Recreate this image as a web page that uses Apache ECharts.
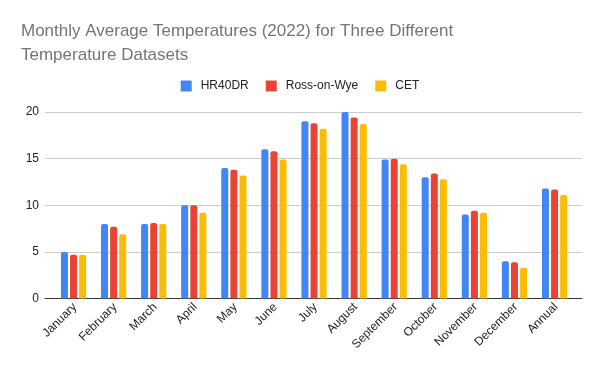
<!DOCTYPE html>
<html><head><meta charset="utf-8">
<script src="https://cdn.jsdelivr.net/npm/echarts@6/dist/echarts.min.js"></script>
<style>html,body{margin:0;padding:0;background:#fff}#c{width:600px;height:371px}</style>
</head><body><div id="c"></div>
<script>
const categories = ["January","February","March","April","May","June","July","August","September","October","November","December","Annual"];
const hr40dr = [5.0, 8.0, 8.0, 10.0, 14.0, 16.0, 19.0, 20.0, 14.9, 13.0, 9.0, 4.0, 11.8];
const rossOnWye = [4.7, 7.7, 8.1, 10.0, 13.8, 15.8, 18.8, 19.4, 15.0, 13.4, 9.4, 3.9, 11.7];
const cet = [4.7, 6.9, 8.0, 9.2, 13.2, 14.9, 18.2, 18.7, 14.4, 12.8, 9.2, 3.3, 11.1];
const seriesNames = ["HR40DR", "Ross-on-Wye", "CET"];
const colors = ["#4285F4", "#EA4335", "#FBBC04"];

const chart = echarts.init(document.getElementById('c'));
const font = 'Arial, "Liberation Sans", sans-serif';
const mk = (name, data, color) => ({
  name, type: 'bar', data, barWidth: 7, barGap: '30%',
  xAxisIndex: 1, yAxisIndex: 1,
  itemStyle: { color, borderRadius: [2, 2, 0, 0] }
});
chart.setOption({
  animation: false,
  color: colors,
  title: {
    text: 'Monthly Average Temperatures (2022) for Three Different\nTemperature Datasets',
    left: 21, top: 20, padding: 0,
    textStyle: { fontFamily: font, fontSize: 17, fontWeight: 'normal', color: '#757575', lineHeight: 23.4 }
  },
  legend: {
    top: 80, left: 'center', itemWidth: 11, itemHeight: 11, itemGap: 17, padding: 0,
    icon: 'rect',
    textStyle: { fontFamily: font, fontSize: 12, color: '#222', padding: [0, 0, 0, 4] },
    data: seriesNames
  },
  grid: [
    { left: 45, right: 18, top: 112, bottom: 72.5 },
    { left: 53.5, right: 25.4, top: 112, bottom: 72.5 }
  ],
  xAxis: [
    { type: 'value', gridIndex: 0, min: 0, max: 1, show: true,
      axisLabel: { show: false }, axisTick: { show: false }, splitLine: { show: false },
      axisLine: { lineStyle: { color: '#333', width: 1 } } },
    { type: 'category', gridIndex: 1, data: categories,
      axisTick: { show: false }, axisLine: { show: false },
      axisLabel: { rotate: 45, fontFamily: font, fontSize: 12, color: '#222', margin: 8, interval: 0,
        padding: [7, -2, 0, 0] } }
  ],
  yAxis: [
    { type: 'value', gridIndex: 0, min: 0, max: 20, interval: 5,
      axisLine: { show: false }, axisTick: { show: false },
      splitLine: { lineStyle: { color: '#ccc' } },
      axisLabel: { fontFamily: font, fontSize: 12, color: '#222', margin: 6 } },
    { type: 'value', gridIndex: 1, min: 0, max: 20, interval: 5, show: false,
      splitLine: { show: false } }
  ],
  series: [
    mk(seriesNames[0], hr40dr, colors[0]),
    mk(seriesNames[1], rossOnWye, colors[1]),
    mk(seriesNames[2], cet, colors[2])
  ]
});
</script></body></html>
